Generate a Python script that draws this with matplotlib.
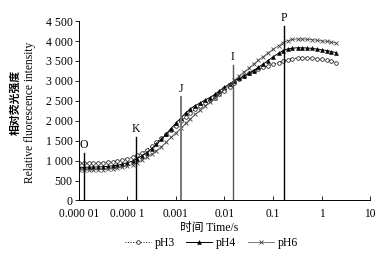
import matplotlib
matplotlib.use("Agg")
import matplotlib.pyplot as plt
from matplotlib.ticker import FixedLocator, FixedFormatter

plt.rcParams["font.family"] = ["Liberation Serif", "Noto Sans CJK SC"]

# time (s), 0.1-decade steps, and relative fluorescence for each pH
time_s = [1.0e-5, 1.3e-5, 1.6e-5, 2.0e-5, 2.5e-5, 3.2e-5, 4.0e-5, 5.0e-5, 6.3e-5, 7.9e-5,
          1.0e-4, 1.3e-4, 1.6e-4, 2.0e-4, 2.5e-4, 3.2e-4, 4.0e-4, 5.0e-4, 6.3e-4, 7.9e-4,
          1.0e-3, 1.3e-3, 1.6e-3, 2.0e-3, 2.5e-3, 3.2e-3, 4.0e-3, 5.0e-3, 6.3e-3, 7.9e-3,
          0.010, 0.013, 0.016, 0.020, 0.025, 0.032, 0.040, 0.050, 0.063, 0.079,
          0.10, 0.13, 0.16, 0.20, 0.25, 0.32, 0.40, 0.50, 0.63, 0.79,
          1.0, 1.3, 1.6, 2.0]
ph3 = [930, 932, 935, 938, 942, 950, 960, 975, 995, 1020,
       1050, 1085, 1130, 1190, 1270, 1360, 1460, 1560, 1660, 1770,
       1880, 1990, 2100, 2200, 2290, 2370, 2440, 2510, 2580, 2660,
       2750, 2850, 2950, 3040, 3120, 3190, 3250, 3300, 3340, 3380,
       3420, 3460, 3500, 3535, 3560, 3570, 3575, 3575, 3570, 3560,
       3545, 3520, 3490, 3460]
ph4 = [830, 832, 835, 838, 842, 848, 856, 868, 885, 910,
       945, 990, 1050, 1120, 1200, 1300, 1410, 1530, 1660, 1800,
       1940, 2080, 2200, 2300, 2380, 2450, 2520, 2580, 2660, 2750,
       2840, 2930, 3000, 3060, 3120, 3190, 3260, 3340, 3420, 3510,
       3600, 3690, 3760, 3800, 3820, 3830, 3830, 3825, 3815, 3800,
       3780, 3760, 3735, 3710]
ph6 = [760, 761, 763, 766, 770, 776, 784, 795, 810, 830,
       860, 900, 950, 1010, 1080, 1160, 1250, 1350, 1460, 1580,
       1700, 1820, 1940, 2050, 2160, 2260, 2360, 2460, 2570, 2680,
       2790, 2900, 3010, 3120, 3220, 3320, 3420, 3520, 3610, 3700,
       3790, 3880, 3960, 4010, 4040, 4050, 4050, 4045, 4035, 4020,
       4005, 3990, 3970, 3950]

# OJIP step markers: label, time, line top
steps = ["O", "K", "J", "I", "P"]
step_t = [1.26e-5, 1.5e-4, 1.26e-3, 0.0147, 0.17]
step_top = [1200, 1580, 2600, 3400, 4380]
step_col = ["black", "black", "#777777", "#555555", "black"]
step_lw = [1.0, 1.0, 1.4, 1.0, 1.0]

xticks = [1e-5, 1e-4, 1e-3, 1e-2, 1e-1, 1, 10]
xlabels = ["0.000 01", "0.000 1", "0.001", "0.01", "0.1", "1", "10"]
yticks = [0, 500, 1000, 1500, 2000, 2500, 3000, 3500, 4000, 4500]
ylabels = ["0", "500", "1 000", "1 500", "2 000", "2 500", "3 000", "3 500", "4 000", "4 500"]

fig = plt.figure(figsize=(3.8, 2.57), dpi=100)
ax = fig.add_axes([0.207, 0.22, 0.767, 0.698])

ax.plot(time_s, ph3, ls=":", lw=0.7, color="black", marker="o", ms=2.6,
        mfc="white", mew=0.5, label="pH3")
ax.plot(time_s, ph4, ls="-", lw=0.7, color="black", marker="^", ms=2.8,
        mfc="black", mew=0.4, label="pH4")
ax.plot(time_s, ph6, ls="-", lw=0.5, color="#444444", marker="x", ms=2.8,
        mew=0.6, label="pH6")

for lab, t, top, c, lw in zip(steps, step_t, step_top, step_col, step_lw):
    ax.plot([t, t], [0, top], color=c, lw=lw)
    ax.text(t, top + 50, lab, ha="center", va="bottom", fontsize=8.5)

ax.set_xscale("log")
ax.set_xlim(1e-5, 10)
ax.set_ylim(0, 4500)
ax.xaxis.set_major_locator(FixedLocator(xticks))
ax.xaxis.set_major_formatter(FixedFormatter(xlabels))
ax.xaxis.set_minor_locator(FixedLocator([]))
ax.set_yticks(yticks)
ax.set_yticklabels(ylabels)
ax.tick_params(axis="x", direction="in", length=3, width=0.6, labelsize=8.3, pad=5.5)
ax.tick_params(axis="y", direction="out", length=3, width=0.6, labelsize=8.5, pad=1.5)
for s in ["top", "right"]:
    ax.spines[s].set_visible(False)
for s in ["left", "bottom"]:
    ax.spines[s].set_linewidth(0.7)

fig.text(0.55, 0.113, "时间 Time/s", ha="center", va="center", fontsize=8.5)
fig.text(0.04, 0.6, "相对荧光强度", rotation=90, ha="center", va="center",
         fontsize=7.8, fontweight="bold")
fig.text(0.079, 0.564, "Relative fluorescence intensity", rotation=90,
         ha="center", va="center", fontsize=8.3)

fig.legend(loc="center", bbox_to_anchor=(0.556, 0.054), ncol=3, frameon=False,
           fontsize=8.5, handlelength=2.2, handletextpad=0.3, columnspacing=1.0,
           borderpad=0)

fig.savefig("out.png", dpi=100)
